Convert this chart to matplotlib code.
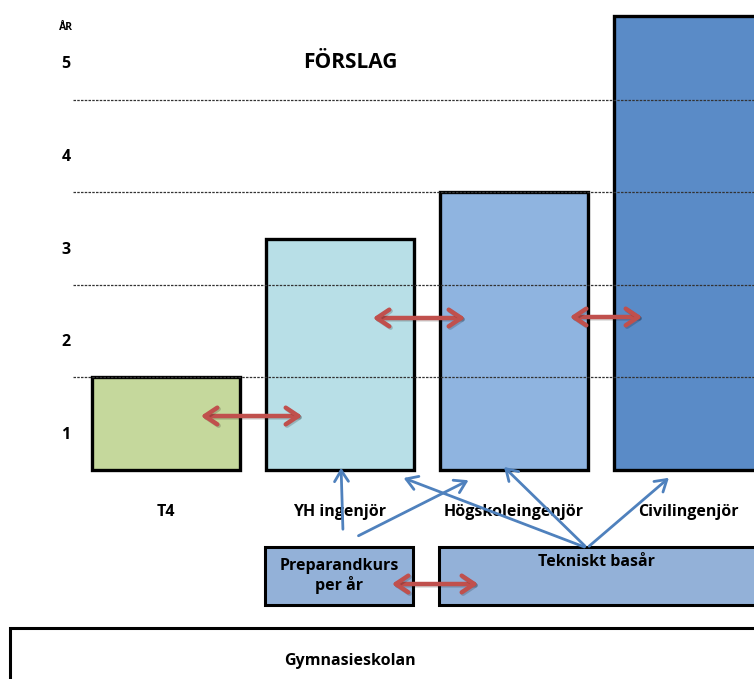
import matplotlib
matplotlib.use("Agg")
import matplotlib.pyplot as plt
import matplotlib.patheffects as pe
from matplotlib.patches import Rectangle, FancyArrowPatch

plt.rcParams['font.family'] = ['Open Sans', 'DejaVu Sans']

# data
programs = ["T4", "YH ingenjör", "Högskoleingenjör", "Civilingenjör"]
years = [1.0, 2.5, 3.0, 4.9]
bar_colors = ["#C5D89C", "#B8DFE7", "#8FB4E0", "#5A8BC7"]
year_labels = ["1", "2", "3", "4", "5"]
grid_years = [1, 2, 3, 4]

W, H = 754, 679
fig = plt.figure(figsize=(W / 100, H / 100), dpi=100)

# main axes: x = program index, y = years
ax = fig.add_axes([0, 0, 1, 1])
step, x0, base, ppy = 174.0, 166.0, 470.0, 92.6   # pixel geometry of the picture
ax.set_xlim(-x0 / step, (W - x0) / step)
ax.set_ylim((base - H) / ppy, base / ppy)
ax.axis("off")

xs = list(range(len(programs)))
ax.bar(xs, years, width=0.85, bottom=0, color=bar_colors,
       edgecolor="black", linewidth=2.4, zorder=2)
ax.hlines(grid_years, (73 - x0) / step, (W - x0) / step, colors="#333333",
          linestyles=(0, (2, 1)), linewidth=0.9, zorder=3)

for i, lab in enumerate(year_labels):
    ax.text((66 - x0) / step, i + 0.38, lab, ha="center", va="center",
            fontsize=11.5, fontweight="bold")
ax.text((66 - x0) / step, (base - 27) / ppy, "ÅR", ha="center", va="center",
        fontsize=7.5, fontweight="bold")

for i, name in enumerate(programs):
    ax.text(i, (base - 512) / ppy, name, ha="center", va="center",
            fontsize=11.5, fontweight="bold")

# overlay in pixel units for the diagram parts
ov = fig.add_axes([0, 0, 1, 1], facecolor="none")
ov.set_xlim(0, W)
ov.set_ylim(H, 0)
ov.axis("off")

ov.text(350, 62, "FÖRSLAG", ha="center", va="center", fontsize=15, fontweight="bold")

box_col = "#93B1D8"
ov.add_patch(Rectangle((265, 547), 148, 58, facecolor=box_col, edgecolor="black", lw=2.2))
ov.add_patch(Rectangle((439, 547), 330, 58, facecolor=box_col, edgecolor="black", lw=2.2))
ov.add_patch(Rectangle((10, 628), 760, 70, facecolor="white", edgecolor="black", lw=2.2))
ov.text(339, 576, "Preparandkurs\nper år", ha="center", va="center",
        fontsize=11.5, fontweight="bold", linespacing=1.2)
ov.text(596, 562, "Tekniskt basår", ha="center", va="center", fontsize=11.5, fontweight="bold")
ov.text(350, 661, "Gymnasieskolan", ha="center", va="center", fontsize=11.5, fontweight="bold")

red_shadow = [pe.SimpleLineShadow(offset=(1, -1), alpha=0.18), pe.Normal()]
red = "#C0504D"
for (a, b) in [((198, 416), (305, 416)), ((370, 318), (468, 318)),
               ((567, 317), (645, 317)), ((389, 584), (481, 584))]:
    ov.add_patch(FancyArrowPatch(a, b, arrowstyle="<->,head_length=9,head_width=6",
                                 color=red, lw=3.2, mutation_scale=1,
                                 path_effects=red_shadow, zorder=5))

blue = "#4F81BD"
for (a, b) in [((343, 532), (341, 465)), ((356, 537), (471, 479)),
               ((587, 548), (401, 477)), ((587, 548), (502, 465)),
               ((587, 548), (671, 476))]:
    ov.add_patch(FancyArrowPatch(a, b, arrowstyle="->,head_length=8,head_width=5",
                                 color=blue, lw=2, mutation_scale=1, zorder=5))

fig.savefig("out.png", dpi=100)
